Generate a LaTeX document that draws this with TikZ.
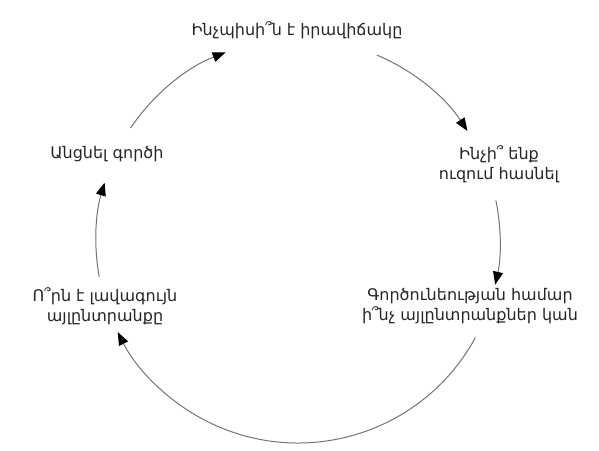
\documentclass[tikz,border=0pt]{standalone}
\usepackage{fontspec}
\setmainfont{DejaVu Sans}
\usetikzlibrary{arrows.meta}
\begin{document}
\begin{tikzpicture}[x=1pt,y=1pt,
 lbl/.style={align=center,font=\fontsize{16}{20}\selectfont,text=black!85,inner sep=0pt},
 cyc/.style={draw=black!55,line width=1pt,-{Triangle[length=13pt,width=10pt,fill=black,color=black]}}]
 \useasboundingbox (0,0) rectangle (599,450);
 \coordinate (c) at (298,209);
 % the five steps
 \node[lbl] (sit) at (297,420) {Ինչպիսի՞ն է իրավիճակը};
 \node[lbl] (goal) at (499,286) {Ինչի՞ ենք\\ուզում հասնել};
 \node[lbl] (alt) at (470,144) {Գործունեության համար\\ի՞նչ այլընտրանքներ կան};
 \node[lbl] (best) at (105,144) {Ո՞րն է լավագույն\\այլընտրանքը};
 \node[lbl] (act) at (107,296) {Անցնել գործի};
 % arc ends
 \coordinate (s1) at ([shift={(67:202)}]c);
 \coordinate (s2) at ([shift={(11.6:202)}]c);
 \coordinate (s3) at ([shift={(-28.6:202)}]c);
 \coordinate (s4) at ([shift={(190.2:202)}]c);
 \coordinate (s5) at ([shift={(146:202)}]c);
 \draw[cyc] (s1) arc[start angle=67,end angle=33,radius=202];
 \draw[cyc] (s2) arc[start angle=11.6,end angle=-12.5,radius=202];
 \draw[cyc] (s3) arc[start angle=-28.6,end angle=-153.2,radius=202];
 \draw[cyc] (s4) arc[start angle=190.2,end angle=163.2,radius=202];
 \draw[cyc] (s5) arc[start angle=146,end angle=111,radius=202];
\end{tikzpicture}
\end{document}
